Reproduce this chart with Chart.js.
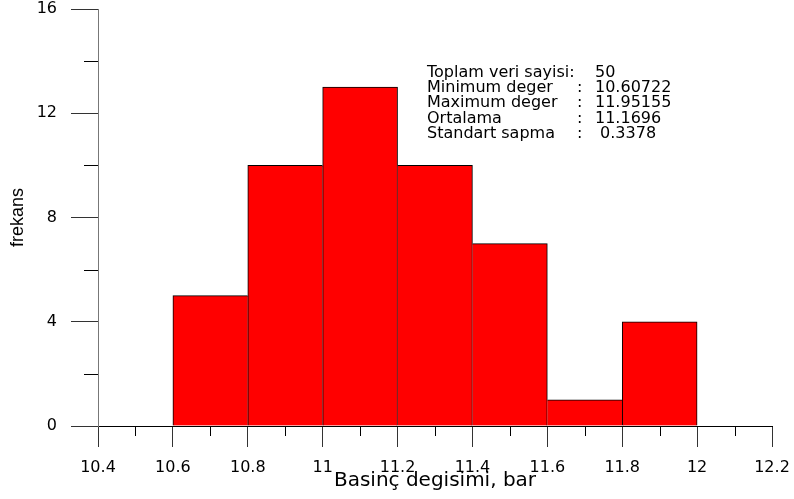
<!DOCTYPE html>
<html>
<head>
<meta charset="utf-8">
<script src="https://cdn.jsdelivr.net/npm/chart.js@4/dist/chart.umd.min.js"></script>
<style>
  body { margin: 0; background: #fff; }
  #wrap { width: 794px; height: 499px; }
</style>
</head>
<body>
<div id="wrap"><canvas id="myChart" width="794" height="499"></canvas></div>
<script>
// histogram bins (centre of each 0.2 wide class) and their counts
const binCenters = [10.7, 10.9, 11.1, 11.3, 11.5, 11.7, 11.9]
const counts = [5, 10, 13, 10, 7, 1, 4]

const xTicks = [10.4, 10.6, 10.8, 11, 11.2, 11.4, 11.6, 11.8, 12, 12.2]
const xMinor = [10.5, 10.7, 10.9, 11.1, 11.3, 11.5, 11.7, 11.9, 12.1]
const yTicks = [0, 4, 8, 12, 16]
const yMinor = [2, 6, 10, 14]

const statLabels = ['Toplam veri sayisi:', 'Minimum deger', 'Maximum deger', 'Ortalama', 'Standart sapma']
const statColons = ['', ':', ':', ':', ':']
const statValues = ['50', '10.60722', '11.95155', '11.1696', ' 0.3378']

Chart.defaults.font.family = 'DejaVu Sans'
Chart.defaults.color = '#000'

// minor tick marks + the statistics block
const extras = {
    id: 'extras',
    afterDraw(chart) {
        const { ctx, scales: { x, y } } = chart
        ctx.save()
        ctx.strokeStyle = '#000'
        ctx.lineWidth = 1
        ctx.beginPath()
        xMinor.forEach(v => {
            const px = Math.round(x.getPixelForValue(v)) + 0.5
            ctx.moveTo(px, y.bottom)
            ctx.lineTo(px, y.bottom + 10)
        })
        yMinor.forEach(v => {
            const py = Math.round(y.getPixelForValue(v)) + 0.5
            ctx.moveTo(x.left - 14, py)
            ctx.lineTo(x.left, py)
        })
        ctx.stroke()

        ctx.fillStyle = '#000'
        ctx.font = '16px "DejaVu Sans"'
        ctx.textBaseline = 'alphabetic'
        statLabels.forEach((lbl, i) => {
            const by = 76.5 + i * 15.4
            ctx.fillText(lbl, 427, by)
            ctx.fillText(statColons[i], 577, by)
            ctx.fillText(statValues[i], 595, by)
        })
        ctx.restore()
    }
}

const ctx = document.getElementById('myChart').getContext('2d')

const chart = new Chart(ctx, {
    type: 'bar',
    data: {
        datasets: [{
            label: 'frekans',
            data: binCenters.map((c, i) => ({ x: c, y: counts[i] })),
            backgroundColor: '#ff0000',
            borderColor: '#000',
            borderSkipped: false,
            borderWidth: (c) => {
                const i = c.dataIndex
                return {
                    top: 1,
                    bottom: 0,
                    left: (i === 0 || counts[i] >= counts[i - 1]) ? 1 : 0,
                    right: (i === counts.length - 1 || counts[i] > counts[i + 1]) ? 1 : 0
                }
            },
            barPercentage: 1,
            categoryPercentage: 1
        }]
    },
    options: {
        responsive: false,
        animation: false,
        layout: { padding: { top: 9, right: 22, left: 0, bottom: 0 } },
        plugins: {
            legend: { display: false },
            tooltip: { enabled: false }
        },
        scales: {
            x: {
                type: 'linear',
                min: 10.4,
                max: 12.2,
                offset: false,
                afterBuildTicks: (s) => { s.ticks = xTicks.map(v => ({ value: v })) },
                afterFit: (s) => {
                    s.height = 73
                    s.paddingLeft = 0
                    s.paddingRight = 0
                },
                ticks: {
                    font: { size: 16 },
                    padding: 11,
                    maxRotation: 0,
                    autoSkip: false,
                    callback: (v) => String(+v.toFixed(1))
                },
                grid: {
                    offset: false,
                    drawOnChartArea: false,
                    tickLength: 21,
                    tickColor: '#333'
                },
                border: { color: '#000', width: 1 },
                title: {
                    display: true,
                    text: 'Basinç degisimi, bar',
                    font: { size: 20 },
                    padding: { top: 0, bottom: 6 }
                }
            },
            y: {
                min: 0,
                max: 16,
                afterBuildTicks: (s) => { s.ticks = yTicks.map(v => ({ value: v })) },
                afterFit: (s) => {
                    s.width = 98
                    s.paddingTop = 0
                    s.paddingBottom = 0
                },
                ticks: {
                    font: { size: 16 },
                    padding: 14
                },
                grid: {
                    drawOnChartArea: false,
                    tickLength: 27,
                    tickColor: '#333'
                },
                border: { color: '#777', width: 1 },
                title: {
                    display: true,
                    text: 'frekans',
                    font: { family: 'Liberation Sans', size: 18 },
                    padding: { top: 7, bottom: 0 }
                }
            }
        }
    },
    plugins: [extras]
})
</script>
</body>
</html>
